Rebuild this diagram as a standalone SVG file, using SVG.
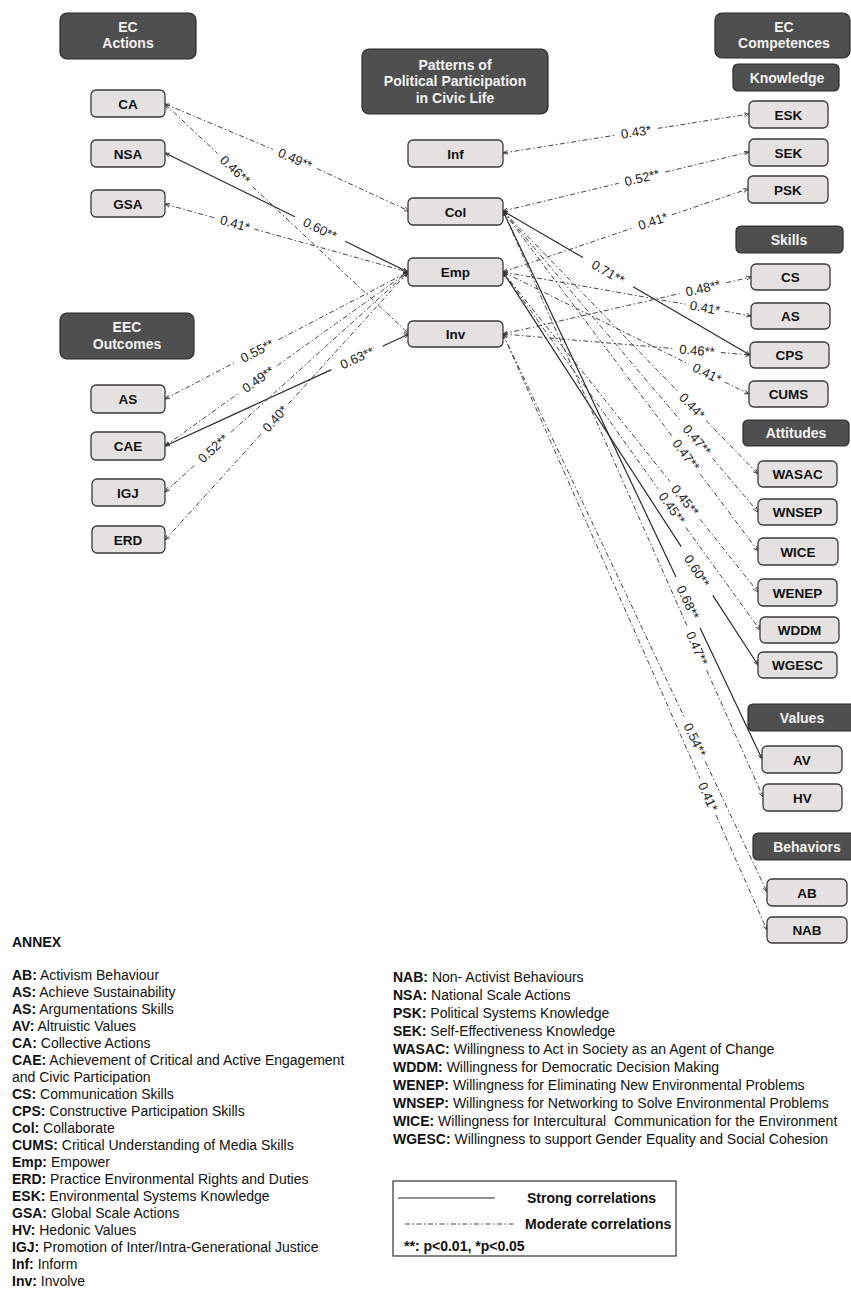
<svg xmlns="http://www.w3.org/2000/svg" width="851" height="1289" viewBox="0 0 851 1289">
  <style>
    text { font-family: "Liberation Sans", Arial, sans-serif; }
    .hdr rect { fill: #4f4f4f; stroke: #2b2b2b; stroke-width: 1.2; }
    .hdr text { fill: #f2f2f2; font-size: 14px; font-weight: bold; text-anchor: middle; }
    .node rect { fill: #e5e1e1; stroke: #3a3a3a; stroke-width: 1.3; }
    .node text { fill: #111; font-size: 13.5px; font-weight: bold; text-anchor: middle; }
    .solid { fill: none; stroke: #2a2a2a; stroke-width: 1.2; }
    .dd { fill: none; stroke: #444; stroke-width: 1; stroke-dasharray: 5 2.5 1.5 2.5; }
    .lbl { fill: #222; font-size: 13px; text-anchor: middle; }
    .annex { fill: #111; font-size: 14px; }
    .annex tspan.k { font-weight: bold; }
    .leg { fill: #111; font-size: 14px; font-weight: bold; }
  </style>
  <defs>
    <marker id="tip" viewBox="0 0 6 6" refX="6" refY="3" markerWidth="5" markerHeight="5" markerUnits="userSpaceOnUse" orient="auto-start-reverse">
      <path d="M0,0.6 L6,3 L0,5.4" fill="none" stroke="#333" stroke-width="1"/>
    </marker>
  </defs>
  <rect width="851" height="1289" fill="#ffffff"/>

  <!-- connectors: each line is split where its coefficient sits -->
  <g id="connectors" marker-start="url(#tip)" marker-end="url(#tip)">
    <path class="dd" d="M165,104 L273,149.4 M317,168.6 L409,211"/>
    <path class="dd" d="M165,104 L217.5,153.5 M252.5,186.5 L409,334"/>
    <path class="solid" d="M165,153 L294.9,216.7 M345.1,241.3 L408,272"/>
    <path class="dd" d="M165,204 L215.7,218.2 M254.3,229 L408,272"/>
    <path class="dd" d="M165,399 L235.7,362 M278.3,339.8 L408,272"/>
    <path class="dd" d="M165,446 L238.5,393.4 M277.5,365.4 L408,272"/>
    <path class="solid" d="M165,446 L331.5,369.6 M382.5,346.2 L409,334"/>
    <path class="dd" d="M165,492 L195.2,464.6 M230.8,432.4 L408,272"/>
    <path class="dd" d="M165,540 L261.6,433.5 M288.4,403.9 L408,272"/>

    <path class="dd" d="M503,153 L614.3,135.4 M657.7,128.4 L749,114"/>
    <path class="dd" d="M503,211 L618.7,183.3 M665.3,172.1 L749,152"/>
    <path class="dd" d="M503,272 L634.1,227.6 M671.9,214.8 L748,189"/>
    <path class="solid" d="M503,211 L583,257.6 M633.1,286.8 L750,355"/>
    <path class="dd" d="M503,334 L679.6,293.6 M726.4,282.8 L751,277"/>
    <path class="dd" d="M503,272 L685.3,304.2 M724.7,311.2 L751,316"/>
    <path class="dd" d="M503,334 L673.1,348.5 M720.9,352.5 L750,355"/>
    <path class="dd" d="M503,272 L689.1,364.3 M724.9,382.1 L749,394"/>
    <path class="dd" d="M503,211 L678.1,391.6 M705.9,420.4 L758,474"/>
    <path class="dd" d="M503,211 L681.5,421.7 M712.5,458.3 L758,512"/>
    <path class="dd" d="M503,211 L671.6,435.8 M700.4,474.2 L758,551"/>
    <path class="dd" d="M503,272 L670,481.6 M700,519.2 L758,592"/>
    <path class="dd" d="M503,272 L658,488.6 M686,527.6 L760,630"/>
    <path class="solid" d="M503,272 L681.2,546.7 M712.8,595.3 L758,665"/>
    <path class="solid" d="M503,211 L676,577.1 M700,627.7 L762,759"/>
    <path class="dd" d="M503,211 L687.3,626.4 M706.7,670.2 L763,797"/>
    <path class="dd" d="M503,334 L684.7,718.1 M705.3,761.5 L767,892"/>
    <path class="dd" d="M503,334 L699.9,778.5 M716.1,815.1 L767,930"/>

    <g id="coefficients">
      <text class="lbl" transform="translate(295,159) rotate(23.7)" dy="4.5">0.49**</text>
      <text class="lbl" transform="translate(235,170) rotate(43.3)" dy="4.5">0.46**</text>
      <text class="lbl" transform="translate(320,229) rotate(26.1)" dy="4.5">0.60**</text>
      <text class="lbl" transform="translate(235,223.6) rotate(15.6)" dy="4.5">0.41*</text>
      <text class="lbl" transform="translate(257,350.9) rotate(-27.6)" dy="4.5">0.55**</text>
      <text class="lbl" transform="translate(258,379.4) rotate(-35.6)" dy="4.5">0.49**</text>
      <text class="lbl" transform="translate(357,357.9) rotate(-24.7)" dy="4.5">0.63**</text>
      <text class="lbl" transform="translate(213,448.5) rotate(-42.2)" dy="4.5">0.52**</text>
      <text class="lbl" transform="translate(275,418.7) rotate(-47.8)" dy="4.5">0.40*</text>

      <text class="lbl" transform="translate(636,131.9) rotate(-9)" dy="4.5">0.43*</text>
      <text class="lbl" transform="translate(642,177.7) rotate(-13.5)" dy="4.5">0.52**</text>
      <text class="lbl" transform="translate(653,221.2) rotate(-18.7)" dy="4.5">0.41*</text>
      <text class="lbl" transform="translate(608,272.2) rotate(30.2)" dy="4.5">0.71**</text>
      <text class="lbl" transform="translate(703,288.2) rotate(-12.9)" dy="4.5">0.48**</text>
      <text class="lbl" transform="translate(705,307.7) rotate(10)" dy="4.5">0.41*</text>
      <text class="lbl" transform="translate(697,350.5) rotate(4.9)" dy="4.5">0.46**</text>
      <text class="lbl" transform="translate(707,373.2) rotate(26.4)" dy="4.5">0.41*</text>
      <text class="lbl" transform="translate(692,406) rotate(45.9)" dy="4.5">0.44*</text>
      <text class="lbl" transform="translate(697,440) rotate(49.7)" dy="4.5">0.47**</text>
      <text class="lbl" transform="translate(686,455) rotate(53.1)" dy="4.5">0.47**</text>
      <text class="lbl" transform="translate(685,500.4) rotate(51.4)" dy="4.5">0.45**</text>
      <text class="lbl" transform="translate(672,508.1) rotate(54.4)" dy="4.5">0.45**</text>
      <text class="lbl" transform="translate(697,571) rotate(57)" dy="4.5">0.60**</text>
      <text class="lbl" transform="translate(688,602.4) rotate(64.7)" dy="4.5">0.68**</text>
      <text class="lbl" transform="translate(697,648.3) rotate(66.1)" dy="4.5">0.47**</text>
      <text class="lbl" transform="translate(695,739.8) rotate(64.7)" dy="4.5">0.54**</text>
      <text class="lbl" transform="translate(708,796.8) rotate(66.1)" dy="4.5">0.41*</text>
    </g>
  </g>

  <!-- column headers -->
  <g id="hdr-ec-actions" class="hdr">
    <rect x="60" y="13" width="136" height="46" rx="7"/>
    <text x="128" y="32">EC</text>
    <text x="128" y="48">Actions</text>
  </g>
  <g id="hdr-eec-outcomes" class="hdr">
    <rect x="60" y="313" width="134" height="46" rx="7"/>
    <text x="127" y="332">EEC</text>
    <text x="127" y="349">Outcomes</text>
  </g>
  <g id="hdr-patterns" class="hdr">
    <rect x="362" y="49" width="186" height="65" rx="7"/>
    <text x="455" y="70">Patterns of</text>
    <text x="455" y="86">Political Participation</text>
    <text x="455" y="103">in Civic Life</text>
  </g>
  <g id="hdr-ec-competences" class="hdr">
    <rect x="715" y="13" width="135" height="45" rx="7"/>
    <text x="784" y="32">EC</text>
    <text x="784" y="48">Competences</text>
  </g>
  <g id="hdr-knowledge" class="hdr">
    <rect x="733" y="64" width="106" height="27" rx="5"/>
    <text x="787" y="82.5">Knowledge</text>
  </g>
  <g id="hdr-skills" class="hdr">
    <rect x="736" y="226" width="107" height="27" rx="5"/>
    <text x="789" y="244.5">Skills</text>
  </g>
  <g id="hdr-attitudes" class="hdr">
    <rect x="743" y="420" width="106" height="26" rx="5"/>
    <text x="796" y="438">Attitudes</text>
  </g>
  <g id="hdr-values" class="hdr">
    <rect x="748" y="704" width="110" height="27" rx="5"/>
    <text x="802" y="722.5">Values</text>
  </g>
  <g id="hdr-behaviors" class="hdr">
    <rect x="753" y="833" width="106" height="27" rx="5"/>
    <text x="807" y="851.5">Behaviors</text>
  </g>

  <!-- EC actions -->
  <g id="node-CA" class="node"><rect x="91" y="90" width="74" height="27" rx="5"/><text x="128" y="108.5">CA</text></g>
  <g id="node-NSA" class="node"><rect x="91" y="140" width="74" height="27" rx="5"/><text x="128" y="158.5">NSA</text></g>
  <g id="node-GSA" class="node"><rect x="91" y="190" width="74" height="27" rx="5"/><text x="128" y="208.5">GSA</text></g>

  <!-- EEC outcomes -->
  <g id="node-AS-outcome" class="node"><rect x="91" y="385" width="74" height="28" rx="5"/><text x="128" y="404">AS</text></g>
  <g id="node-CAE" class="node"><rect x="91" y="432" width="74" height="28" rx="5"/><text x="128" y="451">CAE</text></g>
  <g id="node-IGJ" class="node"><rect x="92" y="479" width="73" height="27" rx="5"/><text x="128" y="497.5">IGJ</text></g>
  <g id="node-ERD" class="node"><rect x="92" y="526" width="73" height="27" rx="5"/><text x="128" y="544.5">ERD</text></g>

  <!-- participation patterns -->
  <g id="node-Inf" class="node"><rect x="408" y="140" width="95" height="27" rx="5"/><text x="455.5" y="158.5">Inf</text></g>
  <g id="node-Col" class="node"><rect x="408" y="198" width="95" height="27" rx="5"/><text x="455.5" y="216.5">Col</text></g>
  <g id="node-Emp" class="node"><rect x="408" y="258" width="95" height="28" rx="5"/><text x="455.5" y="277">Emp</text></g>
  <g id="node-Inv" class="node"><rect x="408" y="321" width="95" height="26" rx="5"/><text x="455.5" y="339">Inv</text></g>

  <!-- EC competences -->
  <g id="node-ESK" class="node"><rect x="749" y="101" width="79" height="27" rx="5"/><text x="788.5" y="119.5">ESK</text></g>
  <g id="node-SEK" class="node"><rect x="749" y="139" width="79" height="27" rx="5"/><text x="788.5" y="157.5">SEK</text></g>
  <g id="node-PSK" class="node"><rect x="748" y="176" width="80" height="27" rx="5"/><text x="788" y="194.5">PSK</text></g>
  <g id="node-CS" class="node"><rect x="751" y="264" width="79" height="26" rx="5"/><text x="790.5" y="282">CS</text></g>
  <g id="node-AS-skill" class="node"><rect x="751" y="303" width="79" height="26" rx="5"/><text x="790.5" y="321">AS</text></g>
  <g id="node-CPS" class="node"><rect x="750" y="342" width="79" height="26" rx="5"/><text x="789.5" y="360">CPS</text></g>
  <g id="node-CUMS" class="node"><rect x="749" y="381" width="79" height="26" rx="5"/><text x="788.5" y="399">CUMS</text></g>
  <g id="node-WASAC" class="node"><rect x="758" y="461" width="79" height="26" rx="5"/><text x="797.5" y="479">WASAC</text></g>
  <g id="node-WNSEP" class="node"><rect x="758" y="499" width="79" height="26" rx="5"/><text x="797.5" y="517">WNSEP</text></g>
  <g id="node-WICE" class="node"><rect x="758" y="538" width="80" height="27" rx="5"/><text x="798" y="556.5">WICE</text></g>
  <g id="node-WENEP" class="node"><rect x="758" y="579" width="79" height="27" rx="5"/><text x="797.5" y="597.5">WENEP</text></g>
  <g id="node-WDDM" class="node"><rect x="760" y="617" width="79" height="26" rx="5"/><text x="799.5" y="635">WDDM</text></g>
  <g id="node-WGESC" class="node"><rect x="758" y="652" width="79" height="26" rx="5"/><text x="797.5" y="670">WGESC</text></g>
  <g id="node-AV" class="node"><rect x="762" y="746" width="80" height="27" rx="5"/><text x="802" y="764.5">AV</text></g>
  <g id="node-HV" class="node"><rect x="763" y="784" width="79" height="27" rx="5"/><text x="802.5" y="802.5">HV</text></g>
  <g id="node-AB" class="node"><rect x="767" y="879" width="80" height="27" rx="5"/><text x="807" y="897.5">AB</text></g>
  <g id="node-NAB" class="node"><rect x="767" y="917" width="80" height="26" rx="5"/><text x="807" y="935">NAB</text></g>

  <!-- abbreviation list -->
  <g id="annex">
    <text class="annex" x="12" y="947" font-weight="bold">ANNEX</text>
    <text class="annex" x="12" y="980"><tspan class="k">AB:</tspan> Activism Behaviour</text>
    <text class="annex" x="12" y="997"><tspan class="k">AS:</tspan> Achieve Sustainability</text>
    <text class="annex" x="12" y="1014"><tspan class="k">AS:</tspan> Argumentations Skills</text>
    <text class="annex" x="12" y="1031"><tspan class="k">AV:</tspan> Altruistic Values</text>
    <text class="annex" x="12" y="1048"><tspan class="k">CA:</tspan> Collective Actions</text>
    <text class="annex" x="12" y="1065"><tspan class="k">CAE:</tspan> Achievement of Critical and Active Engagement</text>
    <text class="annex" x="12" y="1082">and Civic Participation</text>
    <text class="annex" x="12" y="1099"><tspan class="k">CS:</tspan> Communication Skills</text>
    <text class="annex" x="12" y="1116"><tspan class="k">CPS:</tspan> Constructive Participation Skills</text>
    <text class="annex" x="12" y="1133"><tspan class="k">Col:</tspan> Collaborate</text>
    <text class="annex" x="12" y="1150"><tspan class="k">CUMS:</tspan> Critical Understanding of Media Skills</text>
    <text class="annex" x="12" y="1167"><tspan class="k">Emp:</tspan> Empower</text>
    <text class="annex" x="12" y="1184"><tspan class="k">ERD:</tspan> Practice Environmental Rights and Duties</text>
    <text class="annex" x="12" y="1201"><tspan class="k">ESK:</tspan> Environmental Systems Knowledge</text>
    <text class="annex" x="12" y="1218"><tspan class="k">GSA:</tspan> Global Scale Actions</text>
    <text class="annex" x="12" y="1235"><tspan class="k">HV:</tspan> Hedonic Values</text>
    <text class="annex" x="12" y="1252"><tspan class="k">IGJ:</tspan> Promotion of Inter/Intra-Generational Justice</text>
    <text class="annex" x="12" y="1269"><tspan class="k">Inf:</tspan> Inform</text>
    <text class="annex" x="12" y="1286"><tspan class="k">Inv:</tspan> Involve</text>

    <text class="annex" x="393" y="982"><tspan class="k">NAB:</tspan> Non- Activist Behaviours</text>
    <text class="annex" x="393" y="1000"><tspan class="k">NSA:</tspan> National Scale Actions</text>
    <text class="annex" x="393" y="1018"><tspan class="k">PSK:</tspan> Political Systems Knowledge</text>
    <text class="annex" x="393" y="1036"><tspan class="k">SEK:</tspan> Self-Effectiveness Knowledge</text>
    <text class="annex" x="393" y="1054"><tspan class="k">WASAC:</tspan> Willingness to Act in Society as an Agent of Change</text>
    <text class="annex" x="393" y="1072"><tspan class="k">WDDM:</tspan> Willingness for Democratic Decision Making</text>
    <text class="annex" x="393" y="1090"><tspan class="k">WENEP:</tspan> Willingness for Eliminating New Environmental Problems</text>
    <text class="annex" x="393" y="1108"><tspan class="k">WNSEP:</tspan> Willingness for Networking to Solve Environmental Problems</text>
    <text class="annex" x="393" y="1126" xml:space="preserve"><tspan class="k">WICE:</tspan> Willingness for Intercultural  Communication for the Environment</text>
    <text class="annex" x="393" y="1144"><tspan class="k">WGESC:</tspan> Willingness to support Gender Equality and Social Cohesion</text>
  </g>

  <!-- line style key -->
  <g id="legend">
    <rect x="393" y="1181" width="283" height="75" fill="#ffffff" stroke="#333" stroke-width="1.2"/>
    <line x1="398" y1="1198" x2="495" y2="1198" stroke="#222" stroke-width="1.2"/>
    <text class="leg" x="527" y="1203">Strong correlations</text>
    <line class="dd" x1="405" y1="1224" x2="515" y2="1224"/>
    <text class="leg" x="525" y="1229">Moderate correlations</text>
    <text class="leg" x="404" y="1251">**: p&lt;0.01, *p&lt;0.05</text>
  </g>
</svg>
